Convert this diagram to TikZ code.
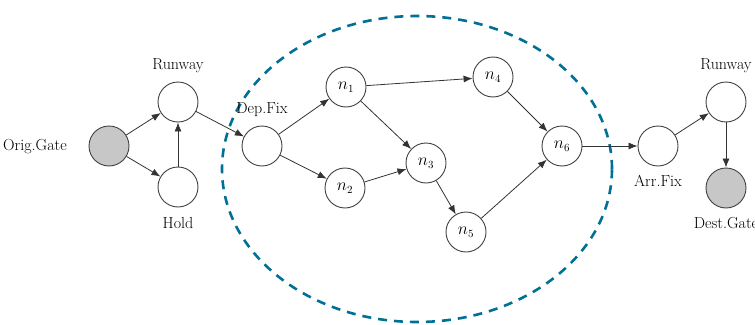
\documentclass[tikz,border=0pt]{standalone}
\usetikzlibrary{arrows.meta}
\definecolor{zoneblue}{RGB}{0,112,150}
\begin{document}
\begin{tikzpicture}[x=1pt,y=1pt,
  every node/.style={font=\fontsize{16}{19}\selectfont},
  state/.style={circle,draw=black!75,line width=0.9pt,minimum size=40pt,inner sep=0pt,fill=white},
  gate/.style={state,fill=black!22},
  lbl/.style={inner sep=0pt},
  flow/.style={draw=black!80,line width=0.8pt,-{Latex[length=9pt,width=7pt]}},
  zone/.style={draw=zoneblue,line width=2.6pt,dash pattern=on 9pt off 7pt}]
\useasboundingbox (0,0) rectangle (755,-324);

% sector boundary
\draw[zone] (417,-169) ellipse [x radius=195, y radius=153];

% departure side
\node[gate]  (og)  at (109,-146) {};
\node[state] (rw1) at (178,-102) {};
\node[state] (hd)  at (178,-187) {};
\node[state] (dep) at (262,-146) {};

% en-route network
\node[state] (n1) at (346,-87)  {$n_1$};
\node[state] (n2) at (345,-188) {$n_2$};
\node[state] (n3) at (426,-163) {$n_3$};
\node[state] (n4) at (493,-77)  {$n_4$};
\node[state] (n5) at (466,-232) {$n_5$};
\node[state] (n6) at (562,-146) {$n_6$};

% arrival side
\node[state] (arr) at (658,-146) {};
\node[state] (rw2) at (726,-102) {};
\node[gate]  (dg)  at (726,-188) {};

% labels
\node[lbl,anchor=east] at (67,-147) {Orig.Gate};
\node[lbl] at (178,-66) {Runway};
\node[lbl] at (178,-223) {Hold};
\node[lbl] at (262,-110) {Dep.Fix};
\node[lbl] at (658,-181) {Arr.Fix};
\node[lbl] at (726,-66) {Runway};
\node[lbl] at (726,-223) {Dest.Gate};

% connectors
\draw[flow] (og) -- (rw1);
\draw[flow] (og) -- (hd);
\draw[flow] (hd) -- (rw1);
\draw[flow] (rw1) -- (dep);
\draw[flow] (dep) -- (n1);
\draw[flow] (dep) -- (n2);
\draw[flow] (n1) -- (n4);
\draw[flow] (n1) -- (n3);
\draw[flow] (n2) -- (n3);
\draw[flow] (n3) -- (n5);
\draw[flow] (n4) -- (n6);
\draw[flow] (n5) -- (n6);
\draw[flow] (n6) -- (arr);
\draw[flow] (arr) -- (rw2);
\draw[flow] (rw2) -- (dg);
\end{tikzpicture}
\end{document}
